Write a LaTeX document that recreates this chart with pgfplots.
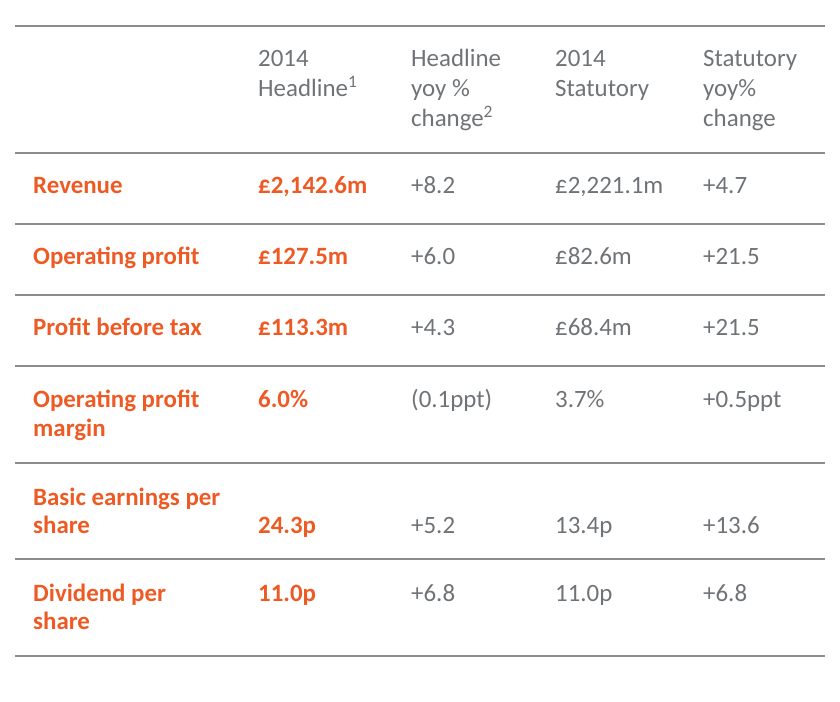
\documentclass[border=0pt]{standalone}
\usepackage{pgfplots}
\pgfplotsset{compat=1.18}
\usepackage{fontspec}
\setmainfont{Carlito}
\definecolor{org}{HTML}{EE5A24}
\definecolor{txt}{HTML}{6F7377}
\definecolor{rulec}{HTML}{8C8C8C}
\newcommand\fs{\fontsize{25}{30}\selectfont}
\newcommand\GT[3]{\node[anchor=base west,inner sep=0pt,font=\fs,text=txt] at (axis cs:#1,#2) {#3};}
\newcommand\OR[3]{\node[anchor=base west,inner sep=0pt,font=\fs\bfseries,text=org] at (axis cs:#1,#2) {#3};}
\begin{document}
\begin{tikzpicture}
\begin{axis}[width=840bp,height=701bp,scale only axis,
  xmin=0,xmax=840,ymin=0,ymax=701,y dir=reverse,
  axis lines=none,clip=false]
\addplot[draw=none] coordinates {(0,0) (840,701)};
% rules
\addplot[rulec,line width=1.6bp] coordinates {(15,26) (825,26)};
\addplot[rulec,line width=1.6bp] coordinates {(15,153) (825,153)};
\addplot[rulec,line width=1.6bp] coordinates {(15,224) (825,224)};
\addplot[rulec,line width=1.6bp] coordinates {(15,295) (825,295)};
\addplot[rulec,line width=1.6bp] coordinates {(15,366) (825,366)};
\addplot[rulec,line width=1.6bp] coordinates {(15,463) (825,463)};
\addplot[rulec,line width=1.6bp] coordinates {(15,559) (825,559)};
\addplot[rulec,line width=1.6bp] coordinates {(15,656) (825,656)};
% header
\GT{258}{67}{2014}
\GT{258}{96}{Headline\textsuperscript{1}}
\GT{411}{67}{Headline}
\GT{411}{96}{yoy \%}
\GT{411}{126}{change\textsuperscript{2}}
\GT{555}{67}{2014}
\GT{555}{96}{Statutory}
\GT{703}{67}{Statutory}
\GT{703}{96}{yoy\%}
\GT{703}{126}{change}
% Revenue
\OR{33}{193}{Revenue}
\OR{258}{193}{£2,142.6m}
\GT{411}{193}{+8.2}
\GT{555}{193}{£2,221.1m}
\GT{703}{193}{+4.7}
% Operating profit
\OR{33}{264}{Operating profit}
\OR{258}{264}{£127.5m}
\GT{411}{264}{+6.0}
\GT{555}{264}{£82.6m}
\GT{703}{264}{+21.5}
% Profit before tax
\OR{33}{335}{Profit before tax}
\OR{258}{335}{£113.3m}
\GT{411}{335}{+4.3}
\GT{555}{335}{£68.4m}
\GT{703}{335}{+21.5}
% Operating profit margin
\OR{33}{407}{Operating profit}
\OR{33}{436}{margin}
\OR{258}{407}{6.0\%}
\GT{411}{407}{(0.1ppt)}
\GT{555}{407}{3.7\%}
\GT{703}{407}{+0.5ppt}
% Basic EPS
\OR{33}{505}{Basic earnings per}
\OR{33}{533}{share}
\OR{258}{533}{24.3p}
\GT{411}{533}{+5.2}
\GT{555}{533}{13.4p}
\GT{703}{533}{+13.6}
% Dividend
\OR{33}{601}{Dividend per}
\OR{33}{629}{share}
\OR{258}{601}{11.0p}
\GT{411}{601}{+6.8}
\GT{555}{601}{11.0p}
\GT{703}{601}{+6.8}
\end{axis}
\end{tikzpicture}
\end{document}
